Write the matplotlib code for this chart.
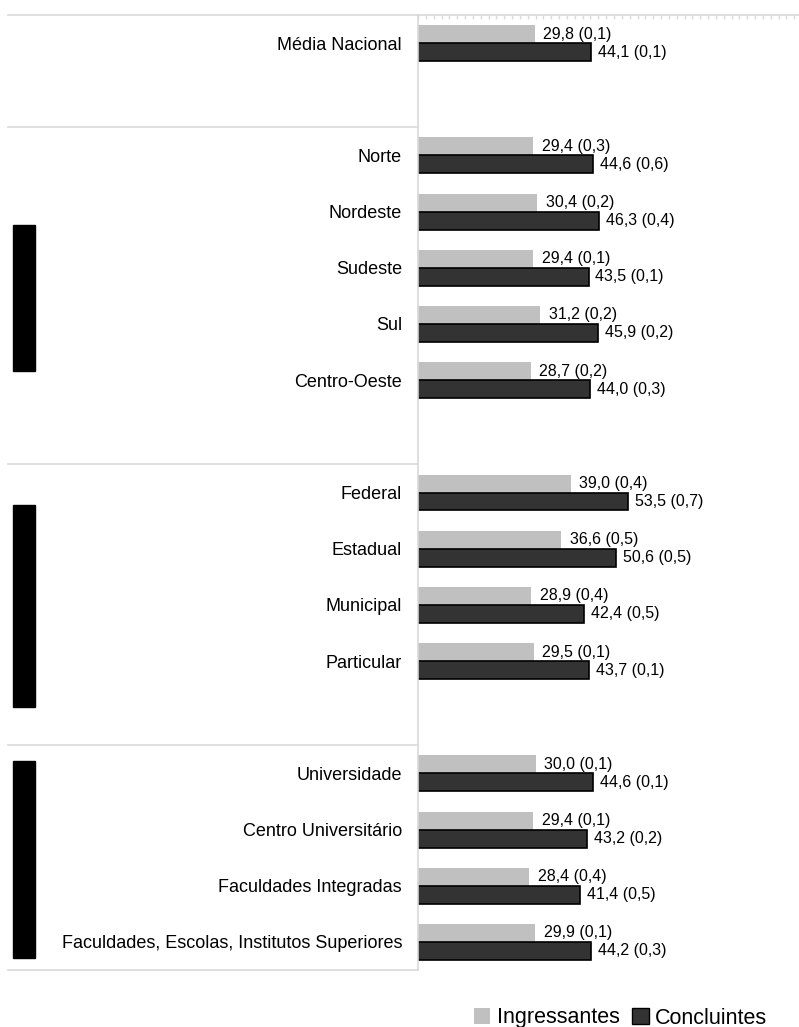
import matplotlib
matplotlib.use("Agg")
import matplotlib.pyplot as plt
from matplotlib.patches import Rectangle, Patch
from matplotlib.transforms import blended_transform_factory
import numpy as np

plt.rcParams['font.family'] = ['Liberation Sans', 'DejaVu Sans']

categories = ["Média Nacional",
              "Norte", "Nordeste", "Sudeste", "Sul", "Centro-Oeste",
              "Federal", "Estadual", "Municipal", "Particular",
              "Universidade", "Centro Universitário", "Faculdades Integradas",
              "Faculdades, Escolas, Institutos Superiores"]
group_sizes = [1, 5, 4, 4]

ingressantes = [29.8, 29.4, 30.4, 29.4, 31.2, 28.7, 39.0, 36.6, 28.9, 29.5, 30.0, 29.4, 28.4, 29.9]
ingressantes_ep = [0.1, 0.3, 0.2, 0.1, 0.2, 0.2, 0.4, 0.5, 0.4, 0.1, 0.1, 0.1, 0.4, 0.1]
concluintes = [44.1, 44.6, 46.3, 43.5, 45.9, 44.0, 53.5, 50.6, 42.4, 43.7, 44.6, 43.2, 41.4, 44.2]
concluintes_ep = [0.1, 0.6, 0.4, 0.1, 0.2, 0.3, 0.7, 0.5, 0.5, 0.1, 0.1, 0.2, 0.5, 0.3]

series_names = ["Ingressantes", "Concluintes"]
GRAY = "#c0c0c0"
DARK = "#333333"
LINE = "#d9d9d9"

W, H = 799, 1027
fig = plt.figure(figsize=(W / 100, H / 100), dpi=100)
ax = fig.add_axes([418 / W, 1 - 970 / H, 1 - 418 / W, (970 - 15) / H])

# one empty row between groups
pos = []
starts = []
p = 0
for n in group_sizes:
    starts.append(p)
    for i in range(n):
        pos.append(p)
        p += 1
    p += 1
pos = np.array(pos)
end = pos[-1] + 0.5

def fmt(v, e):
    return ("%.1f (%.1f)" % (v, e)).replace(".", ",")

bh = 0.32
ax.barh(pos - bh / 2, ingressantes, height=bh, color=GRAY, linewidth=0)
ax.barh(pos + bh / 2, concluintes, height=bh, color=DARK, edgecolor="black", linewidth=1.2)

for y, v, e in zip(pos, ingressantes, ingressantes_ep):
    ax.annotate(fmt(v, e), (v, y - bh / 2), xytext=(6, 0), textcoords="offset points",
                va="center", ha="left", fontsize=11.5, color="black")
for y, v, e in zip(pos, concluintes, concluintes_ep):
    ax.annotate(fmt(v, e), (v, y + bh / 2), xytext=(5, 0), textcoords="offset points",
                va="center", ha="left", fontsize=11.5, color="black")

ax.set_ylim(end, -0.5)
ax.set_xlim(0, 381 / 3.92)
ax.set_yticks(pos)
ax.set_yticklabels(categories, fontsize=13, color="black")
ax.tick_params(axis="y", length=0, pad=11.5)

ax.xaxis.tick_top()
ax.set_xticks(np.arange(0, 98, 2))
ax.set_xticklabels([])
ax.tick_params(axis="x", direction="in", length=3, color=LINE, width=1)

for s in ["right", "bottom"]:
    ax.spines[s].set_visible(False)
for s in ["left", "top"]:
    ax.spines[s].set_color(LINE)
    ax.spines[s].set_linewidth(1.2)

# table-like separators in the label area
tr = blended_transform_factory(fig.transFigure, ax.transData)
seps = [-0.5] + [s - 0.5 for s in starts[1:]] + [end]
for y in seps:
    ax.plot([8 / W, 418 / W], [y, y], transform=tr, color=LINE, lw=1.2, clip_on=False)

# black side blocks
for y0, y1 in [(225, 371), (505, 707), (761, 958)]:
    fig.patches.append(Rectangle((13 / W, 1 - y1 / H), 22 / W, (y1 - y0) / H,
                                 transform=fig.transFigure, color="black"))

handles = [Patch(facecolor=GRAY, edgecolor="none"),
           Patch(facecolor=DARK, edgecolor="black", linewidth=1.0)]
fig.legend(handles, series_names, loc="center left", bbox_to_anchor=(474 / W, 1 - 1018 / H),
           ncol=2, frameon=False, fontsize=15.5, handlelength=0.75, handleheight=0.75,
           handletextpad=0.3, columnspacing=0.6, borderpad=0, borderaxespad=0)

fig.savefig("out.png", dpi=100)
